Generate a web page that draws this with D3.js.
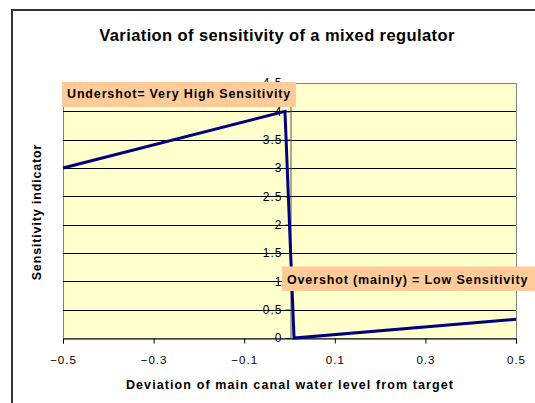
<!DOCTYPE html>
<html>
<head>
<meta charset="utf-8">
<style>
  body { margin: 0; background: #fff; font-family: "Liberation Sans", Arial, sans-serif; }
</style>
<title>Variation of sensitivity of a mixed regulator</title>
</head>
<body>
<script src="https://cdn.jsdelivr.net/npm/d3@7"></script>
<script>

// chart data
var deviation = [-0.5, -0.01, 0.01, 0.5];
var sensitivity = [3, 4, 0, 0.33];
var xTicks = [-0.5, -0.3, -0.1, 0.1, 0.3, 0.5];
var yTicks = [0, 0.5, 1, 1.5, 2, 2.5, 3, 3.5, 4, 4.5];
var notes = ["Undershot= Very High Sensitivity", "Overshot (mainly) = Low Sensitivity"];

var W = 535, H = 403;
var plot = {left: 63, right: 516, top: 83, bottom: 338};

var svg = d3.select("body").append("svg")
    .attr("width", W)
    .attr("height", H);

// outer frame (cut off at right/bottom like the picture)
svg.append("rect")
    .attr("x", 12).attr("y", 10)
    .attr("width", 540).attr("height", 410)
    .attr("fill", "#fff")
    .attr("stroke", "#333")
    .attr("stroke-width", 2);

var x = d3.scaleLinear().domain([-0.5, 0.5]).range([plot.left, plot.right]);
var y = d3.scaleLinear().domain([0, 4.5]).range([plot.bottom, plot.top]);

svg.append("rect")
    .attr("x", plot.left + 0.5).attr("y", plot.top + 0.5)
    .attr("width", plot.right - plot.left)
    .attr("height", plot.bottom - plot.top)
    .attr("fill", "#ffffcc")
    .attr("stroke", "#808080");

// horizontal gridlines
svg.selectAll("line.grid")
    .data(yTicks.filter(function(d) { return d > 0 && d < 4.5; }))
  .enter().append("line")
    .attr("class", "grid")
    .attr("x1", plot.left).attr("x2", plot.right)
    .attr("y1", function(d) { return Math.round(y(d)) + 0.5; })
    .attr("y2", function(d) { return Math.round(y(d)) + 0.5; })
    .attr("stroke", "#000");

// x axis at bottom
var xAxis = d3.axisBottom(x)
    .tickValues(xTicks)
    .tickSize(5)
    .tickFormat(d3.format(".1f"));

var gx = svg.append("g")
    .attr("transform", "translate(0," + (plot.bottom + 0.5) + ")")
    .call(xAxis);
gx.select(".domain").attr("stroke", "#000");
gx.selectAll("text")
    .attr("y", 25)
    .attr("dy", null)
    .style("font-size", "11.5px")
    .style("letter-spacing", "1px")
    .style("font-family", "Liberation Sans, Arial, sans-serif")
    .attr("fill", "#000");

// y axis crossing at x = 0
var yAxis = d3.axisLeft(y)
    .tickValues(yTicks)
    .tickSize(5)
    .tickPadding(3)
    .tickFormat(function(d) { return d; });

var gy = svg.append("g")
    .attr("transform", "translate(" + (Math.round(x(0)) + 0.5) + ",0)")
    .call(yAxis);
gy.select(".domain").attr("stroke", "#555");
gy.selectAll("text")
    .attr("x", -8)
    .style("font-size", "12px")
    .style("letter-spacing", "1px")
    .style("font-family", "Liberation Sans, Arial, sans-serif")
    .attr("fill", "#000");

// the series
var pts = deviation.map(function(d, i) { return [d, sensitivity[i]]; });
svg.append("path")
    .datum(pts)
    .attr("fill", "none")
    .attr("stroke", "#000080")
    .attr("stroke-width", 3)
    .attr("stroke-linejoin", "miter")
    .attr("d", d3.line()
        .x(function(d) { return x(d[0]); })
        .y(function(d) { return y(d[1]); }));

// annotation boxes
var boxes = [
  {text: notes[0], x: 62, y: 82, w: 234, h: 25, base: 15.5},
  {text: notes[1], x: 282, y: 266.5, w: 254, h: 24.5, base: 17}
];
var nb = svg.selectAll("g.note").data(boxes).enter().append("g")
    .attr("class", "note");
nb.append("rect")
    .attr("x", function(d) { return d.x; })
    .attr("y", function(d) { return d.y; })
    .attr("width", function(d) { return d.w; })
    .attr("height", function(d) { return d.h; })
    .attr("fill", "#ffcc99");
nb.append("text")
    .attr("x", function(d) { return d.x + 5; })
    .attr("y", function(d) { return d.y + d.base; })
    .style("font-size", "12.5px")
    .style("letter-spacing", "0.85px")
    .style("font-weight", "bold")
    .attr("fill", "#000")
    .text(function(d) { return d.text; });

// titles
svg.append("text")
    .attr("x", 277).attr("y", 41)
    .attr("text-anchor", "middle")
    .style("font-size", "16.5px")
    .style("letter-spacing", "0.4px")
    .style("font-weight", "bold")
    .text("Variation of sensitivity of a mixed regulator");

svg.append("text")
    .attr("x", 290).attr("y", 389)
    .attr("text-anchor", "middle")
    .style("font-size", "12.5px")
    .style("letter-spacing", "1.1px")
    .style("font-weight", "bold")
    .text("Deviation of main canal water level from target");

svg.append("text")
    .attr("transform", "translate(41," + 212 + ") rotate(-90)")
    .attr("text-anchor", "middle")
    .style("font-size", "12.5px")
    .style("letter-spacing", "0.85px")
    .style("font-weight", "bold")
    .text("Sensitivity indicator");

</script>
</body>
</html>
